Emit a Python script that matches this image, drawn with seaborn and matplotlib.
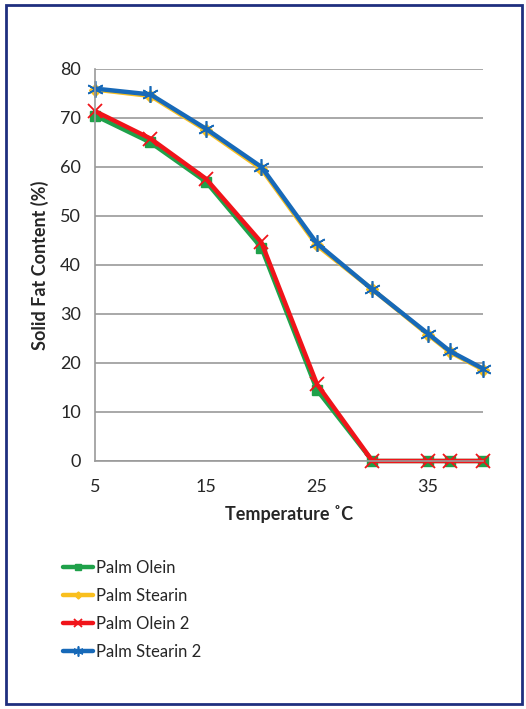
import pandas as pd
import matplotlib.pyplot as plt
import matplotlib.patches as patches
import seaborn as sns

sns.set_style("white")
plt.rcParams['font.family'] = ['Lato', 'DejaVu Sans']

# Temperatures (deg C) and solid fat content (%) for each sample
temperature = [5, 10, 15, 20, 25, 30, 35, 37, 40]
palm_olein = [70.5, 65.0, 57.0, 43.5, 14.5, 0, 0, 0, 0]
palm_stearin = [75.8, 74.5, 67.5, 59.6, 44.0, 35.0, 25.8, 22.2, 18.6]
palm_olein_2 = [71.4, 65.8, 57.6, 44.6, 15.7, 0, 0, 0, 0]
palm_stearin_2 = [76.0, 74.8, 67.8, 60.0, 44.4, 35.0, 26.0, 22.4, 18.8]

series = {
    'Palm Olein': palm_olein,
    'Palm Stearin': palm_stearin,
    'Palm Olein 2': palm_olein_2,
    'Palm Stearin 2': palm_stearin_2,
}
styles = {
    'Palm Olein': dict(color='#1fa14a', marker='s', markersize=7, lw=3.2),
    'Palm Stearin': dict(color='#f9bf1e', marker='D', markersize=6, lw=3.2),
    'Palm Olein 2': dict(color='#f0141a', marker='x', markersize=10, lw=3.2,
                         markeredgewidth=1.3),
    'Palm Stearin 2': dict(color='#1769b8', marker=(6, 2, 0), markersize=12,
                           lw=3.2, markeredgewidth=1.2),
}

rows = []
for name, vals in series.items():
    for t, v in zip(temperature, vals):
        rows.append({'Sample': name, 'Temperature': t, 'SFC': v})
df = pd.DataFrame(rows)

fig = plt.figure(figsize=(5.26, 7.09), dpi=100)
ax = fig.add_axes([0.1806, 0.3498, 0.919 - 0.1806, 0.9027 - 0.3498])

for name in series:
    st = styles[name]
    sns.lineplot(data=df[df['Sample'] == name], x='Temperature', y='SFC',
                 ax=ax, label=name, color=st['color'], marker=st['marker'],
                 markersize=st['markersize'], linewidth=st['lw'],
                 markeredgecolor=st['color'],
                 markeredgewidth=st.get('markeredgewidth', 1.0),
                 legend=False, clip_on=False)

ax.set_xlim(5, 40)
ax.set_ylim(0, 80)
ax.set_xticks([5, 15, 25, 35])
ax.set_yticks(range(0, 81, 10))
ax.yaxis.grid(True, color='#9a9a9a', linewidth=1.2)
ax.set_axisbelow(True)
for side in ['top', 'right']:
    ax.spines[side].set_visible(False)
for side in ['left', 'bottom']:
    ax.spines[side].set_color('#9a9a9a')
    ax.spines[side].set_linewidth(1.2)
ax.tick_params(axis='x', direction='out', length=4, color='#9a9a9a',
               labelsize=13, pad=9)
ax.tick_params(axis='y', length=0, labelsize=13, pad=10)
ax.set_xlabel('Temperature ˚C', fontsize=13, fontweight='bold', labelpad=7)
ax.set_ylabel('Solid Fat Content (%)', fontsize=13, fontweight='bold',
              labelpad=8)

handles, labels = ax.get_legend_handles_labels()
fig.legend(handles, labels, loc='upper left',
           bbox_to_anchor=(0.108, 1 - 553 / 709), frameon=False,
           fontsize=12, handlelength=1.8, handletextpad=0.15,
           labelspacing=0.72, borderaxespad=0, markerscale=0.6)

border = patches.Rectangle((6 / 526, 5 / 709), 516 / 526, 699 / 709,
                           transform=fig.transFigure, fill=False,
                           edgecolor='#1f2f7f', linewidth=2)
fig.patches.append(border)

fig.savefig('out.png', dpi=100)
